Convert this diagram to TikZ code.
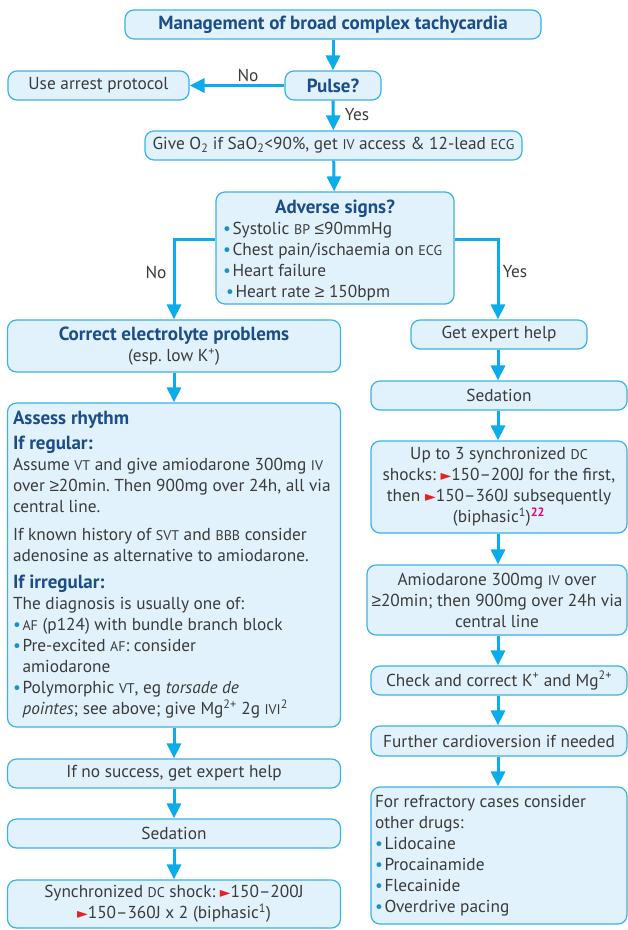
\documentclass[tikz,border=0pt]{standalone}
\usepackage{fontspec}
\setmainfont{PT Sans}
\newfontfamily\symf{DejaVu Sans}
\newfontfamily\relf{Liberation Sans}
\usetikzlibrary{arrows.meta}
\frenchspacing
\definecolor{boxfill}{HTML}{E1F2FC}
\definecolor{boxline}{HTML}{3AB3E6}
\definecolor{arrc}{HTML}{0BACEC}
\definecolor{txt}{HTML}{3B3B3B}
\definecolor{hd}{HTML}{1B4D89}
\definecolor{redt}{HTML}{E42320}
\definecolor{mag}{HTML}{E5007D}
\definecolor{bulc}{HTML}{1A90CC}
\newcommand\smc[1]{{\fontsize{14pt}{21pt}\selectfont #1}}
\newcommand\rtri{{\symf\fontsize{14pt}{21pt}\selectfont\color{redt}►}}
\newcommand\bulb{\makebox[9.5pt][l]{\color{bulc}•}}
\newcommand\bulgap{\makebox[9.5pt][l]{}}
\newcommand\hd[1]{{\fontsize{19pt}{21pt}\selectfont\bfseries\color{hd}#1}}
\newcommand\mygeq{{\relf ≥}}
\newcommand\myleq{{\relf ≤}}
\newenvironment{lines}{\begin{tabular}{@{}l@{}}}{\end{tabular}}
\tikzset{
  box/.style={draw=boxline, line width=1.2pt, fill=boxfill, rounded corners=9pt,
    inner sep=0pt, text=txt, font=\fontsize{17.3pt}{21pt}\selectfont\frenchspacing, align=center},
  arr/.style={draw=arrc, line width=3pt, -{Triangle[length=15pt,width=14pt]}},
  lbl/.style={text=txt, font=\fontsize{17.3pt}{21pt}\selectfont, inner sep=0pt}
}
\begin{document}
\begin{tikzpicture}[x=1pt,y=-1pt]
\useasboundingbox (0,0) rectangle (628,930);
% top
\node[box, minimum width=416pt, minimum height=29pt] (title) at (333,24.5)
  {\hd{Management of broad complex tachycardia}};
\node[box, minimum width=96pt, minimum height=29pt] (pulse) at (333,85.5) {\hd{Pulse?}};
\node[box, minimum width=181pt, minimum height=29pt] (arrest) at (98.5,85.5) {Use arrest protocol};
\node[box, minimum width=377pt, minimum height=29pt] (give) at (333.5,145.5)
  {Give O\textsubscript{2} if SaO\textsubscript{2}<90\%, get \smc{IV} access \& 12-lead \smc{ECG}};
\node[box, minimum width=238pt, minimum height=112pt] (adv) at (335,248)
  {\makebox[224pt][l]{\raisebox{-3pt}[\height][\depth]{\begin{lines}
   \makebox[224pt][c]{\hd{Adverse signs?}}\\
   \bulb Systolic \smc{BP} \myleq90mmHg\\
   \bulb Chest pain/ischaemia on \smc{ECG}\\
   \bulb Heart failure\\
   \makebox[3pt]{}\bulb Heart rate \mygeq\ 150bpm
   \end{lines}}}};
% left column
\node[box, minimum width=333pt, minimum height=52pt] (corr) at (174,346)
  {\hd{Correct electrolyte problems}\\(esp. low K\textsuperscript{+})};
\node[box, minimum width=333pt, minimum height=324pt] (assess) at (174,565)
  {\makebox[322pt][l]{\begin{lines}
   \hd{Assess rhythm}\\[4pt]
   \hd{If regular:}\\
   Assume \smc{VT} and give amiodarone 300mg \smc{IV}\\
   over \mygeq20min. Then 900mg over 24h, all via\\
   central line.\\[7pt]
   If known history of \smc{SVT} and \smc{BBB} consider\\
   adenosine as alternative to amiodarone.\\[6pt]
   \hd{If irregular:}\\
   The diagnosis is usually one of:\\
   \bulb\smc{AF} (p124) with bundle branch block\\
   \bulb Pre-excited \smc{AF}: consider\\
   \bulgap amiodarone\\
   \bulb Polymorphic \smc{VT}, eg \textit{torsade de}\\
   \bulgap\textit{pointes}; see above; give Mg\textsuperscript{2+} 2g \smc{IVI}\textsuperscript{2}
   \end{lines}}};
\node[box, minimum width=333pt, minimum height=29pt] (nosucc) at (174,773.5) {If no success, get expert help};
\node[box, minimum width=333pt, minimum height=29pt] (sedl) at (174,833.5) {Sedation};
\node[box, minimum width=333pt, minimum height=48pt] (syncl) at (174,904)
  {Synchronized \smc{DC} shock: \rtri150–200J\\ \rtri150–360J x 2 (biphasic\textsuperscript{1})};
% right column
\node[box, minimum width=176pt, minimum height=29pt] (gexp) at (499,334.5) {Get expert help};
\node[box, minimum width=256pt, minimum height=29pt] (sedr) at (499,395.5) {Sedation};
\node[box, minimum width=256pt, minimum height=92pt] (upto) at (499,487)
  {Up to 3 synchronized \smc{DC}\\ shocks: \rtri150–200J for the first,\\ then \rtri150–360J subsequently\\
   (biphasic\textsuperscript{1})\textsuperscript{\color{mag}\bfseries 22}};
\node[box, minimum width=260pt, minimum height=70pt] (amio) at (497,600)
  {Amiodarone 300mg \smc{IV} over\\ \mygeq20min; then 900mg over 24h via\\ central line};
\node[box, minimum width=256pt, minimum height=29pt] (check) at (499,680.5)
  {Check and correct K\textsuperscript{+} and Mg\textsuperscript{2+}};
\node[box, minimum width=256pt, minimum height=30pt] (further) at (499,741) {Further cardioversion if needed};
\node[box, minimum width=256pt, minimum height=137pt] (refr) at (499,855.5)
  {\makebox[248pt][l]{\begin{lines}
   For refractory cases consider\\ other drugs:\\ \bulb Lidocaine\\ \bulb Procainamide\\ \bulb Flecainide\\ \bulb Overdrive pacing
   \end{lines}}};
% connectors
\draw[arr] (title) -- (pulse);
\draw[arr] (pulse) -- (arrest);
\node[lbl] (nolbl) at (248,75) {No};
\draw[arr] (pulse) -- (give);
\node[lbl] (yeslbl) at (357,115) {Yes};
\draw[arr] (give) -- (adv);
\coordinate (bl) at (174,239);
\coordinate (br) at (498,239);
\draw[arr] (adv.west |- bl) -- (bl) -- (corr.north -| bl);
\draw[arr] (adv.east |- br) -- (br) -- (gexp.north -| br);
\node[lbl] (no2) at (156,272) {No};
\node[lbl] (yes2) at (515,272) {Yes};
\draw[arr] (corr) -- (assess);
\draw[arr] (assess) -- (nosucc);
\draw[arr] (nosucc) -- (sedl);
\draw[arr] (sedl) -- (syncl);
\draw[arr] (gexp.south -| br) -- (sedr.north -| br);
\draw[arr] (sedr.south -| br) -- (upto.north -| br);
\draw[arr] (upto.south -| br) -- (amio.north -| br);
\draw[arr] (amio.south -| br) -- (check.north -| br);
\draw[arr] (check.south -| br) -- (further.north -| br);
\draw[arr] (further.south -| br) -- (refr.north -| br);
\end{tikzpicture}
\end{document}
